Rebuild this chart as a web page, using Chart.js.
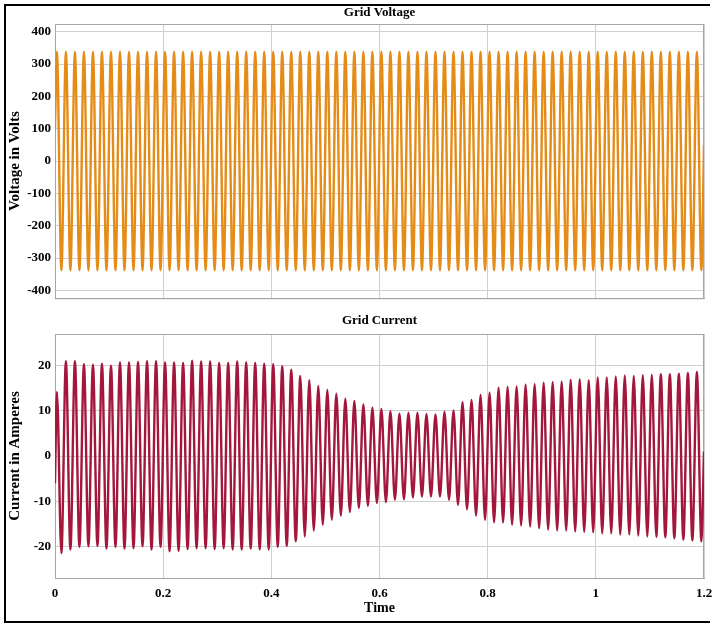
<!DOCTYPE html>
<html>
<head>
<meta charset="utf-8">
<title>Grid Voltage and Grid Current</title>
<script src="https://cdn.jsdelivr.net/npm/chart.js@4.4.1/dist/chart.umd.min.js"></script>
<style>
  body { margin: 0; background: #fff; overflow: hidden; }
  #frame {
    position: absolute; left: 4px; top: 4px; width: 704px; height: 615px;
    border-left: 2px solid #000; border-top: 2px solid #000; border-bottom: 2px solid #000;
  }
  canvas { position: absolute; left: 0; }
  #voltageChart { top: 0; }
  #currentChart { top: 310px; }
</style>
</head>
<body>
<div id="frame"></div>
<canvas id="voltageChart" width="712" height="310"></canvas>
<canvas id="currentChart" width="712" height="311"></canvas>
<script>
// 60 Hz waveforms, one positive and one negative peak per cycle (72 cycles in 1.2 s)
const freq = 60;
const firstPeak = 0.0035;
const timeTicks = [0, 0.2, 0.4, 0.6, 0.8, 1, 1.2];

const voltagePosPeaks = [
  338, 338, 338, 338, 338, 338, 338, 338, 338, 338, 338, 338,
  338, 338, 338, 338, 338, 338, 338, 338, 338, 338, 338, 338,
  338, 338, 338, 338, 338, 338, 338, 338, 338, 338, 338, 338,
  338, 338, 338, 338, 338, 338, 338, 338, 338, 338, 338, 338,
  338, 338, 338, 338, 338, 338, 338, 338, 338, 338, 338, 338,
  338, 338, 338, 338, 338, 338, 338, 338, 338, 338, 338, 338
];
const voltageNegPeaks = [
  -338, -338, -338, -338, -338, -338, -338, -338, -338, -338, -338, -338,
  -338, -338, -338, -338, -338, -338, -338, -338, -338, -338, -338, -338,
  -338, -338, -338, -338, -338, -338, -338, -338, -338, -338, -338, -338,
  -338, -338, -338, -338, -338, -338, -338, -338, -338, -338, -338, -338,
  -338, -338, -338, -338, -338, -338, -338, -338, -338, -338, -338, -338,
  -338, -338, -338, -338, -338, -338, -338, -338, -338, -338, -338, -338
];
const voltageEnds = [100, 50];   // value at t = 0 and t = 1.2

const currentPosPeaks = [
  14.2, 21.0, 21.0, 20.3, 20.2, 20.4, 20.0, 20.7, 20.7, 20.8, 21.0, 21.0,
  20.7, 20.7, 20.6, 21.1, 20.9, 20.9, 20.6, 20.6, 20.9, 20.7, 20.6, 20.4,
  20.3, 19.9, 19.1, 17.7, 16.8, 15.5, 14.6, 13.8, 12.7, 12.2, 11.4, 10.7,
  10.4, 9.9, 9.4, 9.6, 9.6, 9.3, 9.2, 9.8, 10.1, 11.9, 12.4, 13.5,
  14.0, 15.1, 15.3, 15.4, 15.8, 15.9, 16.2, 16.4, 16.5, 16.9, 17.0, 16.8,
  17.4, 17.4, 17.6, 17.8, 17.7, 17.9, 18.0, 18.1, 18.1, 18.2, 18.4, 18.6
];
const currentNegPeaks = [
  -21.5, -20.7, -20.1, -20.0, -19.9, -20.5, -20.1, -20.5, -20.4, -20.0, -20.7, -20.1,
  -21.1, -21.0, -20.6, -20.4, -20.4, -20.6, -20.4, -20.7, -20.7, -20.5, -20.7, -20.7,
  -20.1, -19.9, -18.9, -17.8, -16.5, -15.2, -14.1, -13.2, -12.4, -11.5, -11.0, -10.4,
  -10.2, -9.7, -9.6, -9.2, -9.0, -9.0, -9.0, -9.7, -10.8, -11.8, -13.2, -14.1,
  -14.7, -14.7, -15.2, -15.4, -15.6, -16.0, -16.3, -16.5, -16.5, -16.7, -16.8, -16.9,
  -17.1, -17.1, -17.4, -17.4, -17.6, -17.8, -17.9, -18.0, -18.2, -18.5, -18.7, -18.9
];
const currentEnds = [-6, 1];

const voltageTicks = [-400, -300, -200, -100, 0, 100, 200, 300, 400];
const currentTicks = [-20, -10, 0, 10, 20];

function buildWave(pos, neg, ends) {
  const pts = [{ x: 0, y: ends[0] }];
  for (let k = 0; k < pos.length; k++) {
    const t = firstPeak + k / freq;
    pts.push({ x: t, y: pos[k] });
    pts.push({ x: t + 0.5 / freq, y: neg[k] });
  }
  pts.push({ x: 1.2, y: ends[1] });
  return pts;
}

const serif = 'Liberation Serif';
const gridColor = '#cfcfcf';
const boxColor = '#a6a6a6';

// draws the top and right sides of the axes box
const boxPlugin = {
  id: 'axesBox',
  beforeDatasetsDraw(chart) {
    const { ctx, chartArea: a } = chart;
    ctx.save();
    ctx.strokeStyle = boxColor;
    ctx.lineWidth = 1;
    ctx.strokeRect(a.left + 0.5, a.top + 0.5, a.right - a.left - 1, a.bottom - a.top);
    ctx.restore();
  }
};

function makeChart(id, opts) {
  return new Chart(document.getElementById(id), {
    type: 'line',
    data: {
      datasets: [{
        data: opts.points,
        borderColor: opts.color,
        borderWidth: 2.4,
        pointRadius: 0,
        cubicInterpolationMode: 'monotone'
      }]
    },
    options: {
      responsive: false,
      animation: false,
      layout: { padding: { left: 6, right: 8, top: 0, bottom: opts.bottomPad } },
      plugins: {
        legend: { display: false },
        tooltip: { enabled: false },
        title: {
          display: true,
          text: opts.title,
          fullSize: false,
          color: '#000',
          font: { family: serif, size: 13, weight: 'bold' },
          padding: { top: opts.titleTop, bottom: 8.4 - opts.titleTop }
        }
      },
      scales: {
        x: {
          type: 'linear',
          min: 0,
          max: 1.2,
          afterBuildTicks: s => { s.ticks = timeTicks.map(v => ({ value: v })); },
          ticks: {
            display: opts.showTime,
            color: '#000',
            padding: 8,
            font: { family: serif, size: 13, weight: 'bold' },
            callback: v => String(v)
          },
          grid: { color: gridColor, drawTicks: false },
          border: { color: boxColor },
          title: {
            display: opts.showTime,
            text: 'Time',
            color: '#000',
            font: { family: serif, size: 14, weight: 'bold' },
            padding: { top: 0, bottom: 4 }
          },
          afterFit: s => {
            s.height = opts.showTime ? 43 : 0;
            s.paddingLeft = 0;
            s.paddingRight = 0;
          }
        },
        y: {
          min: -opts.yLimit,
          max: opts.yLimit,
          afterBuildTicks: s => { s.ticks = opts.yTicks.map(v => ({ value: v })); },
          ticks: {
            color: '#000',
            padding: 4,
            font: { family: serif, size: 13, weight: 'bold' }
          },
          grid: { color: gridColor, drawTicks: false },
          border: { color: boxColor },
          title: {
            display: true,
            text: opts.yTitle,
            color: '#000',
            font: { family: serif, size: 15, weight: 'bold' },
            padding: 0
          },
          afterFit: s => { s.width = 49; }
        }
      }
    },
    plugins: [boxPlugin]
  });
}

makeChart('voltageChart', {
  points: buildWave(voltagePosPeaks, voltageNegPeaks, voltageEnds),
  color: '#E48C17',
  title: 'Grid Voltage',
  titleTop: 5,
  yTitle: 'Voltage in Volts',
  yLimit: 424,
  yTicks: voltageTicks,
  showTime: false,
  bottomPad: 4
});

makeChart('currentChart', {
  points: buildWave(currentPosPeaks, currentNegPeaks, currentEnds),
  color: '#A3173B',
  title: 'Grid Current',
  titleTop: 3,
  yTitle: 'Current in Amperes',
  yLimit: 27,
  yTicks: currentTicks,
  showTime: true,
  bottomPad: 0
});
</script>
</body>
</html>
